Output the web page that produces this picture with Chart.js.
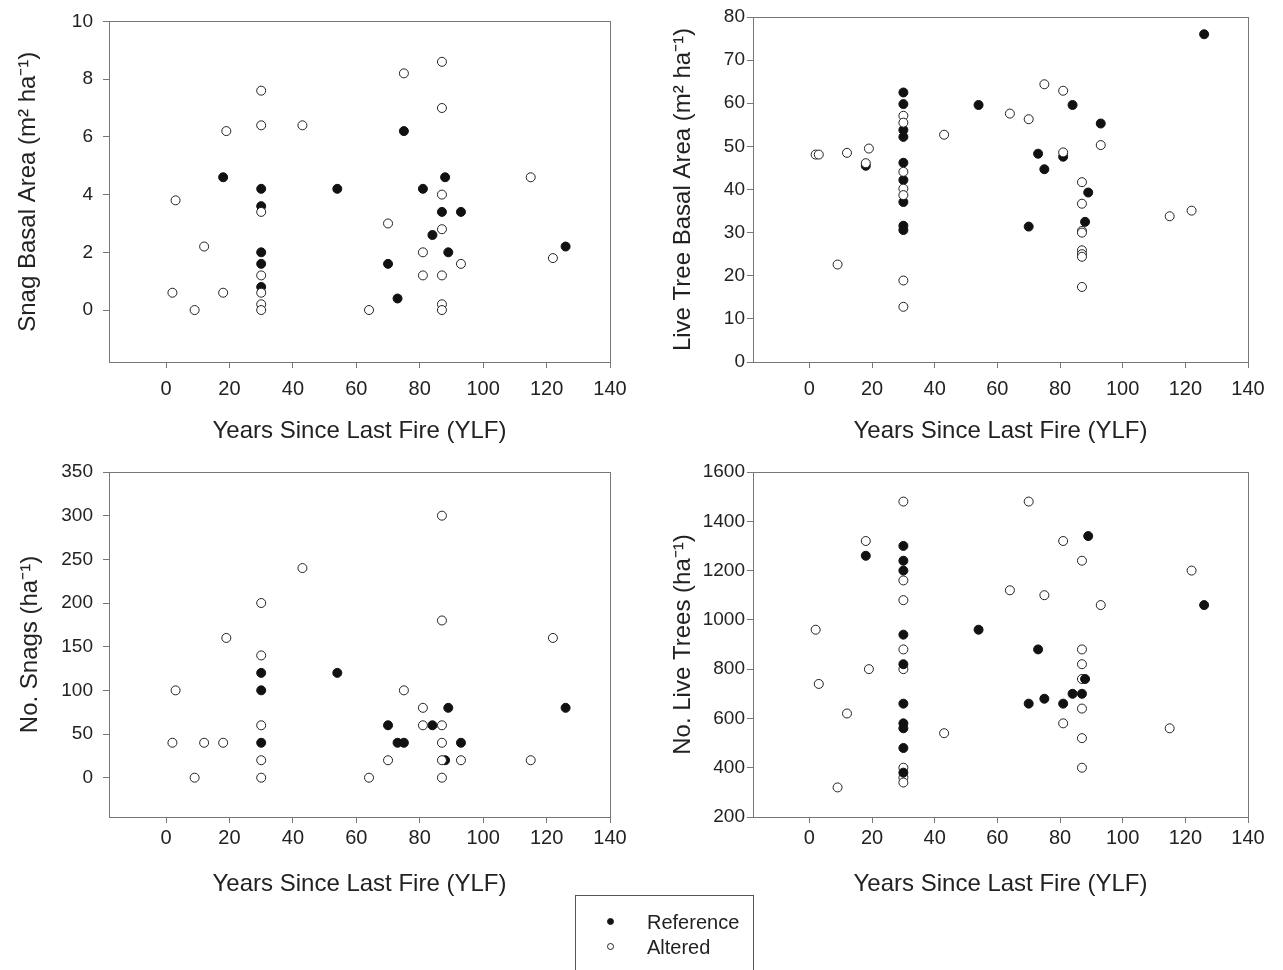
<!DOCTYPE html>
<html>
<head>
<meta charset="utf-8">
<script src="https://cdn.jsdelivr.net/npm/chart.js@4.4.1/dist/chart.umd.min.js"></script>
<style>
  body { margin: 0; background: #fff; width: 1283px; height: 970px; position: relative; overflow: hidden;
         font-family: 'Liberation Sans', Arial, sans-serif; color: #222; }
  canvas { position: absolute; }
  #legend { position: absolute; left: 575px; top: 895px; width: 179px; height: 90px;
            border: 1px solid #555; box-sizing: border-box; }
  #legend .row { position: absolute; left: 0; height: 24px; font-size: 20px; line-height: 24px; }
  #legend .dot { position: absolute; left: 31px; top: 8px; width: 7px; height: 7px; border-radius: 50%;
                 box-sizing: border-box; border: 1px solid #222; }
  #legend .txt { position: absolute; left: 71px; top: 0; white-space: nowrap; }
</style>
</head>
<body>
<canvas id="snagBa" width="640" height="450" style="left:0;top:0"></canvas>
<canvas id="liveBa" width="643" height="450" style="left:640px;top:0"></canvas>
<canvas id="snagNo" width="640" height="450" style="left:0;top:450px"></canvas>
<canvas id="liveNo" width="643" height="450" style="left:640px;top:450px"></canvas>
<div id="legend"></div>

<script>
// series names
const seriesNames = ["Reference", "Altered"];
const xTitle = "Years Since Last Fire (YLF)";
const yearTicks = [0, 20, 40, 60, 80, 100, 120, 140];

// snag basal area (m2 ha-1)
const snagBaRefX = [18, 30, 30, 30, 30, 30, 54, 75, 81, 88, 87, 93, 84, 89, 70, 73, 126];
const snagBaRefY = [4.6, 4.2, 3.6, 2.0, 1.6, 0.8, 4.2, 6.2, 4.2, 4.6, 3.4, 3.4, 2.6, 2.0, 1.6, 0.4, 2.2];
const snagBaAltX = [30, 30, 19, 43, 75, 87, 87, 3, 30, 12, 2, 9, 18, 30, 30, 30, 30, 70, 87, 87, 81, 81, 87, 93, 64, 87, 87, 115, 122];
const snagBaAltY = [7.6, 6.4, 6.2, 6.4, 8.2, 8.6, 7.0, 3.8, 3.4, 2.2, 0.6, 0.0, 0.6, 1.2, 0.6, 0.2, 0.0, 3.0, 4.0, 2.8, 2.0, 1.2, 1.2, 1.6, 0.0, 0.2, 0.0, 4.6, 1.8];
const snagBaTicks = [0, 2, 4, 6, 8, 10];

// live tree basal area (m2 ha-1)
const liveBaRefX = [126, 30, 30, 30, 30, 30, 30, 30, 30, 30, 54, 84, 93, 73, 75, 81, 89, 88, 70, 18];
const liveBaRefY = [76.0, 62.5, 59.8, 53.8, 52.2, 46.2, 42.2, 37.1, 31.6, 30.6, 59.6, 59.6, 55.3, 48.3, 44.7, 47.6, 39.3, 32.5, 31.4, 45.5];
const liveBaAltX = [2, 3, 12, 19, 18, 9, 30, 30, 30, 30, 30, 30, 30, 43, 64, 70, 75, 81, 81, 93, 87, 87, 87, 87, 87, 87, 87, 87, 115, 122];
const liveBaAltY = [48.1, 48.1, 48.5, 49.5, 46.1, 22.6, 57.1, 55.5, 44.1, 40.2, 38.7, 18.9, 12.8, 52.7, 57.6, 56.3, 64.4, 62.9, 48.6, 50.3, 41.7, 36.7, 30.4, 30.0, 25.9, 25.0, 24.4, 17.4, 33.8, 35.1];
const liveBaTicks = [0, 10, 20, 30, 40, 50, 60, 70, 80];

// number of snags (ha-1)
const snagNoRefX = [30, 30, 30, 54, 70, 73, 75, 84, 89, 93, 88, 126];
const snagNoRefY = [120, 100, 40, 120, 60, 40, 40, 60, 80, 40, 20, 80];
const snagNoAltX = [87, 43, 30, 87, 19, 122, 30, 3, 75, 81, 30, 81, 87, 2, 12, 18, 87, 30, 70, 87, 93, 115, 9, 30, 64, 87];
const snagNoAltY = [300, 240, 200, 180, 160, 160, 140, 100, 100, 80, 60, 60, 60, 40, 40, 40, 40, 20, 20, 20, 20, 20, 0, 0, 0, 0];
const snagNoTicks = [0, 50, 100, 150, 200, 250, 300, 350];

// number of live trees (ha-1)
const liveNoRefX = [30, 18, 30, 30, 30, 30, 30, 30, 30, 30, 30, 89, 126, 54, 73, 88, 84, 87, 70, 81, 75];
const liveNoRefY = [1300, 1260, 1240, 1200, 940, 820, 660, 580, 560, 480, 380, 1340, 1060, 960, 880, 760, 700, 700, 660, 660, 680];
const liveNoAltX = [30, 70, 18, 81, 87, 122, 30, 30, 64, 75, 93, 2, 30, 87, 87, 30, 19, 87, 3, 12, 87, 81, 115, 43, 87, 87, 30, 30, 30, 9];
const liveNoAltY = [1480, 1480, 1320, 1320, 1240, 1200, 1160, 1080, 1120, 1100, 1060, 960, 880, 880, 820, 800, 800, 760, 740, 620, 640, 580, 560, 540, 520, 400, 400, 360, 340, 320];
const liveNoTicks = [200, 400, 600, 800, 1000, 1200, 1400, 1600];

Chart.defaults.font.family = "'Liberation Sans', Arial, sans-serif";
Chart.defaults.color = "#222";

function pairs(xs, ys) {
    return xs.map((x, i) => ({ x: x, y: ys[i] }));
}

// box round the plot area
const framePlugin = {
    id: "frame",
    afterDraw(chart) {
        const a = chart.chartArea;
        const ctx = chart.ctx;
        ctx.save();
        ctx.strokeStyle = "#777";
        ctx.lineWidth = 1;
        ctx.strokeRect(Math.round(a.left) + 0.5, Math.round(a.top) + 0.5,
            Math.round(a.right - a.left), Math.round(a.bottom - a.top));
        ctx.restore();
    }
};

function renderPanel(id, p) {
    const refSet = {
        label: seriesNames[0],
        data: pairs(p.refX, p.refY),
        backgroundColor: "#111",
        borderColor: "#111",
        borderWidth: 1,
        pointRadius: 4.5,
        order: p.refOnTop ? 0 : 1
    };
    const altSet = {
        label: seriesNames[1],
        data: pairs(p.altX, p.altY),
        backgroundColor: "#fff",
        borderColor: "#222",
        borderWidth: 1,
        pointRadius: 4.5,
        order: p.refOnTop ? 1 : 0
    };
    const tickGrid = { drawOnChartArea: false, drawTicks: true, tickLength: 6, color: "#777" };

    new Chart(document.getElementById(id), {
        type: "scatter",
        data: { datasets: [refSet, altSet] },
        options: {
            responsive: false,
            animation: false,
            events: [],
            layout: { padding: { left: 0, top: p.top, right: p.right, bottom: 0 } },
            plugins: { legend: { display: false }, tooltip: { enabled: false } },
            scales: {
                x: {
                    type: "linear",
                    min: -18,
                    max: 140,
                    afterBuildTicks: s => { s.ticks = yearTicks.map(v => ({ value: v })); },
                    afterFit: s => { s.height = p.xH; },
                    grid: tickGrid,
                    border: { color: "#777" },
                    ticks: { font: { size: 20 }, padding: p.xPad, maxRotation: 0, autoSkip: false,
                             callback: v => String(v) },
                    title: { display: true, text: xTitle, font: { size: 24 },
                             padding: { top: 0, bottom: p.xTitlePad } }
                },
                y: {
                    type: "linear",
                    min: p.yMin,
                    max: p.yMax,
                    afterBuildTicks: s => { s.ticks = p.yTicks.map(v => ({ value: v })); },
                    afterFit: s => { s.width = p.yW; },
                    grid: tickGrid,
                    border: { color: "#777" },
                    ticks: { font: { size: 19 }, padding: p.yPad, autoSkip: false,
                             callback: v => String(v) },
                    title: { display: true, text: p.yTitle, font: { size: 24 },
                             padding: { top: p.yTitlePad, bottom: 0 } }
                }
            }
        },
        plugins: [framePlugin]
    });
}

renderPanel("snagBa", {
    refX: snagBaRefX, refY: snagBaRefY, altX: snagBaAltX, altY: snagBaAltY,
    yMin: -1.8, yMax: 10, yTicks: snagBaTicks, yTitle: "Snag Basal Area (m\u00B2 ha\u207B\u00B9)",
    top: 17, right: 30, yW: 109, xH: 88, xPad: 9, yPad: 10, xTitlePad: 4, yTitlePad: 14
});
renderPanel("liveBa", {
    refX: liveBaRefX, refY: liveBaRefY, altX: liveBaAltX, altY: liveBaAltY,
    yMin: 0, yMax: 80, yTicks: liveBaTicks, yTitle: "Live Tree Basal Area (m\u00B2 ha\u207B\u00B9)",
    top: 17, right: 35, yW: 113, xH: 88, xPad: 9, yPad: 2, xTitlePad: 4, yTitlePad: 29
});
renderPanel("snagNo", {
    refX: snagNoRefX, refY: snagNoRefY, altX: snagNoAltX, altY: snagNoAltY,
    yMin: -45, yMax: 350, yTicks: snagNoTicks, yTitle: "No. Snags (ha\u207B\u00B9)",
    top: 22, right: 30, yW: 109, xH: 83, xPad: 3, yPad: 10, xTitlePad: 1, yTitlePad: 16
});
renderPanel("liveNo", {
    refX: liveNoRefX, refY: liveNoRefY, altX: liveNoAltX, altY: liveNoAltY, refOnTop: true,
    yMin: 200, yMax: 1600, yTicks: liveNoTicks, yTitle: "No. Live Trees (ha\u207B\u00B9)",
    top: 22, right: 35, yW: 113, xH: 83, xPad: 3, yPad: 2, xTitlePad: 1, yTitlePad: 29
});

// legend box under the panels
const legend = document.getElementById("legend");
seriesNames.forEach((name, i) => {
    const row = document.createElement("div");
    row.className = "row";
    row.style.top = (14 + i * 25) + "px";
    row.innerHTML = '<span class="dot" style="background:' + (i === 0 ? "#111" : "#fff") + '"></span>' +
        '<span class="txt">' + name + "</span>";
    legend.appendChild(row);
});
</script>
</body>
</html>
